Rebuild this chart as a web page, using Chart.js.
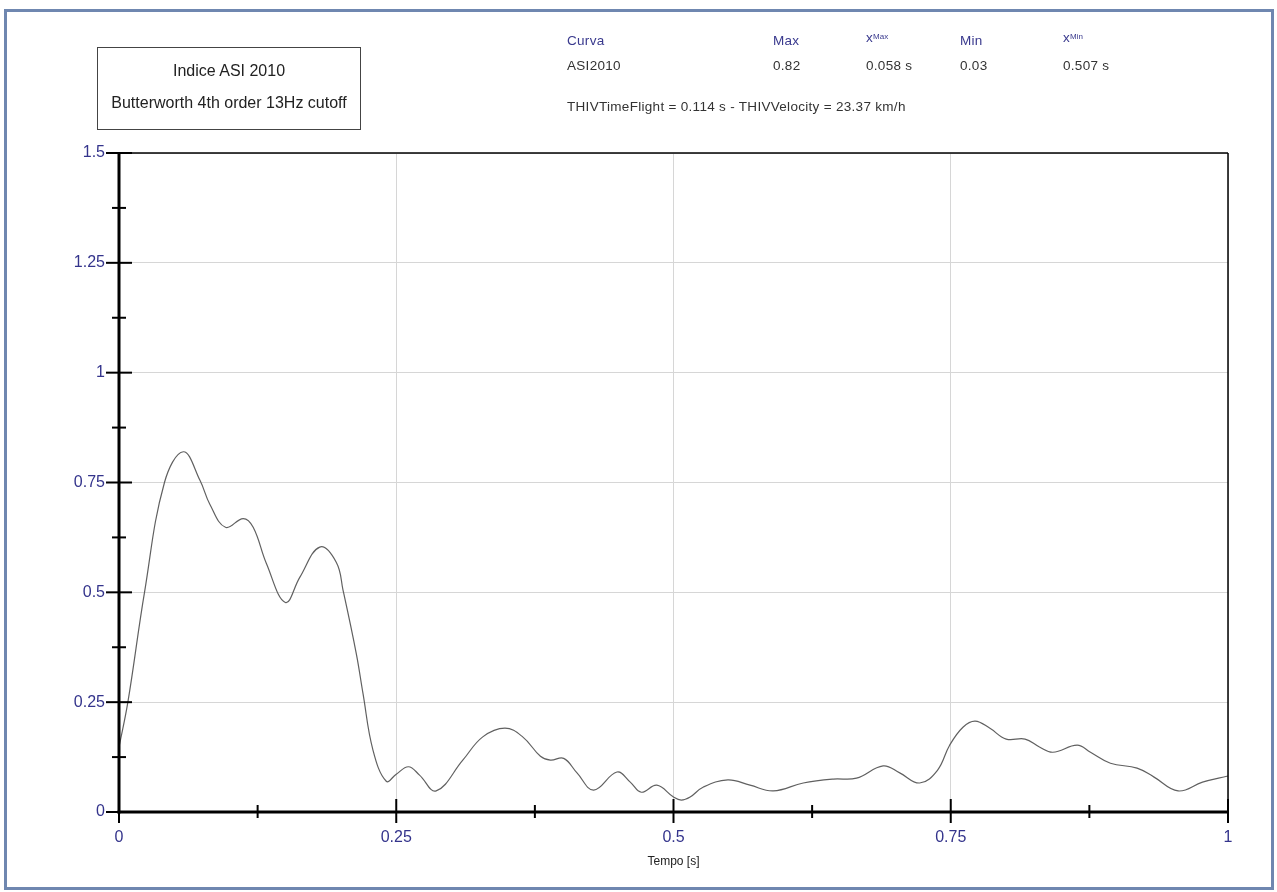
<!DOCTYPE html>
<html>
<head>
<meta charset="utf-8">
<script src="https://cdn.jsdelivr.net/npm/chart.js@4.4.1/dist/chart.umd.min.js"></script>
<style>
  html, body { margin: 0; padding: 0; background: #fff; }
  body { width: 1277px; height: 892px; position: relative; overflow: hidden; font-family: "Liberation Sans", Arial, sans-serif; }
  #wrap { position: absolute; left: 0; top: 0; width: 1277px; height: 892px; }
  #frame { position: absolute; left: 4px; top: 9px; width: 1264px; height: 875px; border: 3px solid #6f87b0; pointer-events: none; }
  #titlebox { position: absolute; left: 97px; top: 47px; width: 262px; height: 81px; border: 1px solid #444; text-align: center; color: #222; font-size: 16px; }
  #titlebox div { position: absolute; left: 0; width: 100%; }
  .st { position: absolute; font-size: 13.5px; letter-spacing: 0.3px; color: #333; white-space: nowrap; }
  .hd { color: #3a3a8e; }
  .st sup { font-size: 8px; letter-spacing: 0; position: relative; top: -3px; vertical-align: baseline; }
</style>
</head>
<body>
<div id="wrap"><canvas id="c" width="1277" height="892"></canvas></div>
<div id="frame"></div>
<div id="titlebox">
  <div style="top:14px">Indice ASI 2010</div>
  <div style="top:46px">Butterworth 4th order 13Hz cutoff</div>
</div>
<div class="st hd" style="left:567px; top:33px">Curva</div>
<div class="st hd" style="left:773px; top:33px">Max</div>
<div class="st hd" style="left:866px; top:30px">x<sup>Max</sup></div>
<div class="st hd" style="left:960px; top:33px">Min</div>
<div class="st hd" style="left:1063px; top:30px">x<sup>Min</sup></div>
<div class="st" style="left:567px; top:58px">ASI2010</div>
<div class="st" style="left:773px; top:58px">0.82</div>
<div class="st" style="left:866px; top:58px">0.058 s</div>
<div class="st" style="left:960px; top:58px">0.03</div>
<div class="st" style="left:1063px; top:58px">0.507 s</div>
<div class="st" style="left:567px; top:99px">THIVTimeFlight = 0.114 s - THIVVelocity = 23.37 km/h</div>
<script>
// ---- data ----
const timeS = [0, 0.008, 0.023, 0.041, 0.058, 0.073, 0.082, 0.096, 0.112, 0.121, 0.133, 0.150, 0.163, 0.181, 0.196, 0.202,
  0.214, 0.220, 0.229, 0.241, 0.250, 0.261, 0.271, 0.286, 0.310, 0.328, 0.348, 0.364, 0.380, 0.389, 0.401, 0.413,
  0.428, 0.449, 0.461, 0.471, 0.485, 0.500, 0.507, 0.515, 0.527, 0.549, 0.569, 0.590, 0.617, 0.644, 0.665, 0.689,
  0.704, 0.722, 0.738, 0.749, 0.761, 0.772, 0.785, 0.800, 0.817, 0.830, 0.842, 0.864, 0.876, 0.894, 0.918, 0.933,
  0.955, 0.977, 1.0];
const asi2010 = [0.148, 0.25, 0.5, 0.75, 0.82, 0.755, 0.70, 0.648, 0.668, 0.648, 0.565, 0.477, 0.534, 0.603, 0.568, 0.505,
  0.36, 0.27, 0.141, 0.07, 0.086, 0.103, 0.084, 0.048, 0.118, 0.171, 0.191, 0.171, 0.127, 0.118, 0.122, 0.089,
  0.05, 0.091, 0.068, 0.045, 0.061, 0.034, 0.027, 0.034, 0.057, 0.073, 0.061, 0.048, 0.066, 0.075, 0.077, 0.105,
  0.089, 0.066, 0.095, 0.152, 0.193, 0.207, 0.191, 0.166, 0.166, 0.148, 0.136, 0.152, 0.136, 0.111, 0.10, 0.080,
  0.048, 0.068, 0.082];
const xTicks = [0, 0.25, 0.5, 0.75, 1];
const yTicks = [0, 0.25, 0.5, 0.75, 1, 1.25, 1.5];
const xMinorTicks = [0.125, 0.375, 0.625, 0.875];
const yMinorTicks = [0.125, 0.375, 0.625, 0.875, 1.125, 1.375];
const xTickLabels = ['0', '0.25', '0.5', '0.75', '1'];
const yTickLabels = ['0', '0.25', '0.5', '0.75', '1', '1.25', '1.5'];

const points = timeS.map((t, i) => ({ x: t, y: asi2010[i] }));

const axisFrame = {
  id: 'axisFrame',
  afterDatasetsDraw(chart) {
    const { ctx, chartArea: a, scales: { x, y } } = chart;
    const seg = (x1, y1, x2, y2) => { ctx.beginPath(); ctx.moveTo(x1, y1); ctx.lineTo(x2, y2); ctx.stroke(); };
    ctx.save();
    ctx.strokeStyle = '#000';
    ctx.lineWidth = 1.5;
    seg(a.left, a.top, a.right, a.top);
    seg(a.right, a.top, a.right, a.bottom);
    ctx.lineWidth = 3;
    seg(a.left, a.top - 1, a.left, a.bottom + 1.5);
    seg(a.left - 1.5, a.bottom, a.right + 1, a.bottom);
    ctx.lineWidth = 2;
    yTicks.forEach(v => { const p = y.getPixelForValue(v); seg(a.left - 13, p, a.left + 13, p); });
    yMinorTicks.forEach(v => { const p = y.getPixelForValue(v); seg(a.left - 7, p, a.left + 7, p); });
    xTicks.forEach(v => { const p = x.getPixelForValue(v); seg(p, a.bottom - 13, p, a.bottom + 11); });
    xMinorTicks.forEach(v => { const p = x.getPixelForValue(v); seg(p, a.bottom - 7, p, a.bottom + 6); });
    ctx.restore();
  }
};

new Chart(document.getElementById('c'), {
  type: 'line',
  data: {
    datasets: [{
      label: 'ASI2010',
      data: points,
      borderColor: '#606060',
      borderWidth: 1.2,
      pointRadius: 0,
      tension: 0.4,
      fill: false
    }]
  },
  options: {
    responsive: false,
    animation: false,
    events: [],
    layout: { padding: { top: 153, right: 49, left: 0, bottom: 0 } },
    plugins: { legend: { display: false }, tooltip: { enabled: false }, title: { display: false } },
    scales: {
      x: {
        type: 'linear', min: 0, max: 1,
        afterFit: s => { s.height = 80; },
        afterBuildTicks: s => { s.ticks = xTicks.map(v => ({ value: v })); },
        grid: { color: '#d6d6d6', lineWidth: 1, drawTicks: false },
        border: { display: false },
        ticks: { padding: 16, color: '#34348c', font: { family: 'Liberation Sans', size: 16 },
          callback: (v) => xTickLabels[xTicks.indexOf(v)], maxRotation: 0 },
        title: { display: true, text: 'Tempo [s]', color: '#222', font: { family: 'Liberation Sans', size: 12 }, padding: { top: 0, bottom: 23 } }
      },
      y: {
        type: 'linear', min: 0, max: 1.5,
        afterFit: s => { s.width = 119; },
        afterBuildTicks: s => { s.ticks = yTicks.map(v => ({ value: v })); },
        grid: { color: '#d6d6d6', lineWidth: 1, drawTicks: false },
        border: { display: false },
        ticks: { padding: 14, color: '#34348c', font: { family: 'Liberation Sans', size: 16 },
          callback: (v) => yTickLabels[yTicks.indexOf(v)] }
      }
    }
  },
  plugins: [axisFrame]
});
</script>
</body>
</html>
